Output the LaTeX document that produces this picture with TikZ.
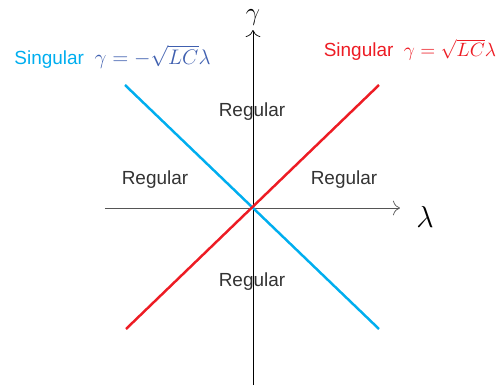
\documentclass[tikz,border=0pt]{standalone}
\usepackage{fontspec}
\setmainfont{Liberation Sans}
\usetikzlibrary{arrows.meta}
\usepackage{xcolor}
\definecolor{sgblue}{HTML}{00AEEF}
\definecolor{sgred}{HTML}{ED1C24}
\definecolor{sgmath}{HTML}{3F5FAF}
\definecolor{axgray}{HTML}{555555}
\definecolor{txtgray}{HTML}{333333}
\begin{document}
\begin{tikzpicture}[font=\fontsize{10.8pt}{13pt}\selectfont,
    reg/.style={text=txtgray},
    sline/.style={line width=1.4pt}]
    \useasboundingbox (-5.06,-3.54) rectangle (4.92,4.16);
    % axes
    \coordinate (xl) at (-2.96,0);
    \coordinate (xr) at (2.94,0);
    \coordinate (yb) at (0,-3.54);
    \coordinate (yt) at (0,3.56);
    \draw[axgray, -{To[length=4pt]}] (xl) -- (xr);
    \draw[black, -{To[length=4pt]}] (yb) -- (yt);
    \node (lam) at (3.44,-0.17) {\fontsize{19pt}{22pt}\selectfont$\lambda$};
    \node (gam) at (0,3.80) {\fontsize{13.5pt}{16pt}\selectfont$\gamma$};
    % singular lines
    \coordinate (b1) at (-2.56,2.46);
    \coordinate (b2) at (2.52,-2.42);
    \coordinate (r1) at (-2.54,-2.42);
    \coordinate (r2) at (2.52,2.46);
    \draw[sline, sgblue] (b1) -- (b2);
    \draw[sline, sgred] (r1) -- (r2);
    \node[text=sgblue] (sb) at (-2.81,3.02) {Singular\ \ \textcolor{sgmath}{\fontsize{13pt}{15pt}\selectfont$\gamma=-\sqrt{LC}\lambda$}};
    \node[text=sgred] (sr) at (3.14,3.16) {Singular\ \ $\gamma=\sqrt{LC}\lambda$};
    % regions
    \node[reg] (rt) at (-0.02,1.92) {Regular};
    \node[reg] (rl) at (-1.96,0.56) {Regular};
    \node[reg] (rr) at (1.82,0.56) {Regular};
    \node[reg] (rb) at (-0.02,-1.48) {Regular};
  \end{tikzpicture}
\end{document}
